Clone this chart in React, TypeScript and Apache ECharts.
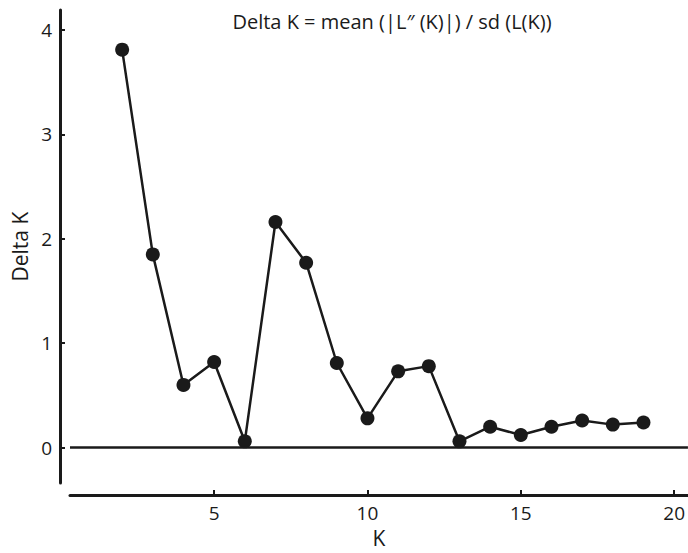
import React, { useEffect, useRef } from "react";
import * as echarts from "echarts";

const kValues = [2, 3, 4, 5, 6, 7, 8, 9, 10, 11, 12, 13, 14, 15, 16, 17, 18, 19];
const deltaK = [3.81, 1.85, 0.6, 0.82, 0.06, 2.16, 1.77, 0.81, 0.28, 0.73, 0.78, 0.06, 0.2, 0.12, 0.2, 0.26, 0.22, 0.24];
const xTicks = [5, 10, 15, 20];
const yTicks = [0, 1, 2, 3, 4];
const titleText = "Delta K = mean (|L\u2033 (K)|) / sd (L(K))";

export default function App() {
  const ref = useRef<HTMLDivElement>(null);
  useEffect(() => {
    if (!ref.current) return;
    const chart = echarts.init(ref.current, null, { renderer: "svg" });
    const font = "'Open Sans', 'Noto Sans', sans-serif";
    chart.setOption({
      animation: false,
      backgroundColor: "#ffffff",
      textStyle: { fontFamily: font },
      title: {
        text: titleText,
        left: 387,
        top: 6,
        textAlign: "center",
        textStyle: { fontFamily: font, fontSize: 20, fontWeight: "normal", color: "#1a1a1a" },
      },
      grid: { left: 70, top: 10, width: 618, height: 481, containLabel: false },
      xAxis: {
        type: "value",
        min: 0.3,
        max: 20.45,
        offset: 12,
        name: "K",
        nameLocation: "middle",
        nameGap: 30,
        nameTextStyle: { fontFamily: font, fontSize: 21, color: "#1a1a1a" },
        axisLine: { onZero: false, lineStyle: { color: "#1a1a1a", width: 3 } },
        axisTick: { inside: true, length: 5, customValues: xTicks, lineStyle: { color: "#1a1a1a", width: 2 } },
        axisLabel: { customValues: xTicks, margin: 8, fontSize: 19, color: "#1a1a1a", fontFamily: font },
        splitLine: { show: false },
      },
      yAxis: {
        type: "value",
        min: -0.34,
        max: 4.19,
        offset: 10,
        name: "Delta K",
        nameLocation: "middle",
        nameGap: 30,
        nameRotate: 90,
        nameTextStyle: { fontFamily: font, fontSize: 21, color: "#1a1a1a" },
        axisLine: { onZero: false, lineStyle: { color: "#1a1a1a", width: 3 } },
        axisTick: { inside: true, length: 5, customValues: yTicks, lineStyle: { color: "#1a1a1a", width: 2 } },
        axisLabel: { customValues: yTicks, margin: 8, fontSize: 19, color: "#1a1a1a", fontFamily: font },
        splitLine: { show: false },
      },
      series: [
        {
          type: "line",
          data: kValues.map((k, i) => [k, deltaK[i]]),
          symbol: "circle",
          symbolSize: 14,
          itemStyle: { color: "#1a1a1a" },
          lineStyle: { color: "#1a1a1a", width: 2.5 },
          markLine: {
            silent: true,
            symbol: "none",
            label: { show: false },
            lineStyle: { color: "#1a1a1a", width: 2.5, type: "solid" },
            data: [{ yAxis: 0 }],
          },
          z: 3,
        },
      ],
    });
    return () => chart.dispose();
  }, []);
  return (
    <div
      ref={ref}
      style={{ position: "fixed", left: 0, top: 0, width: 688, height: 553 }}
    />
  );
}
